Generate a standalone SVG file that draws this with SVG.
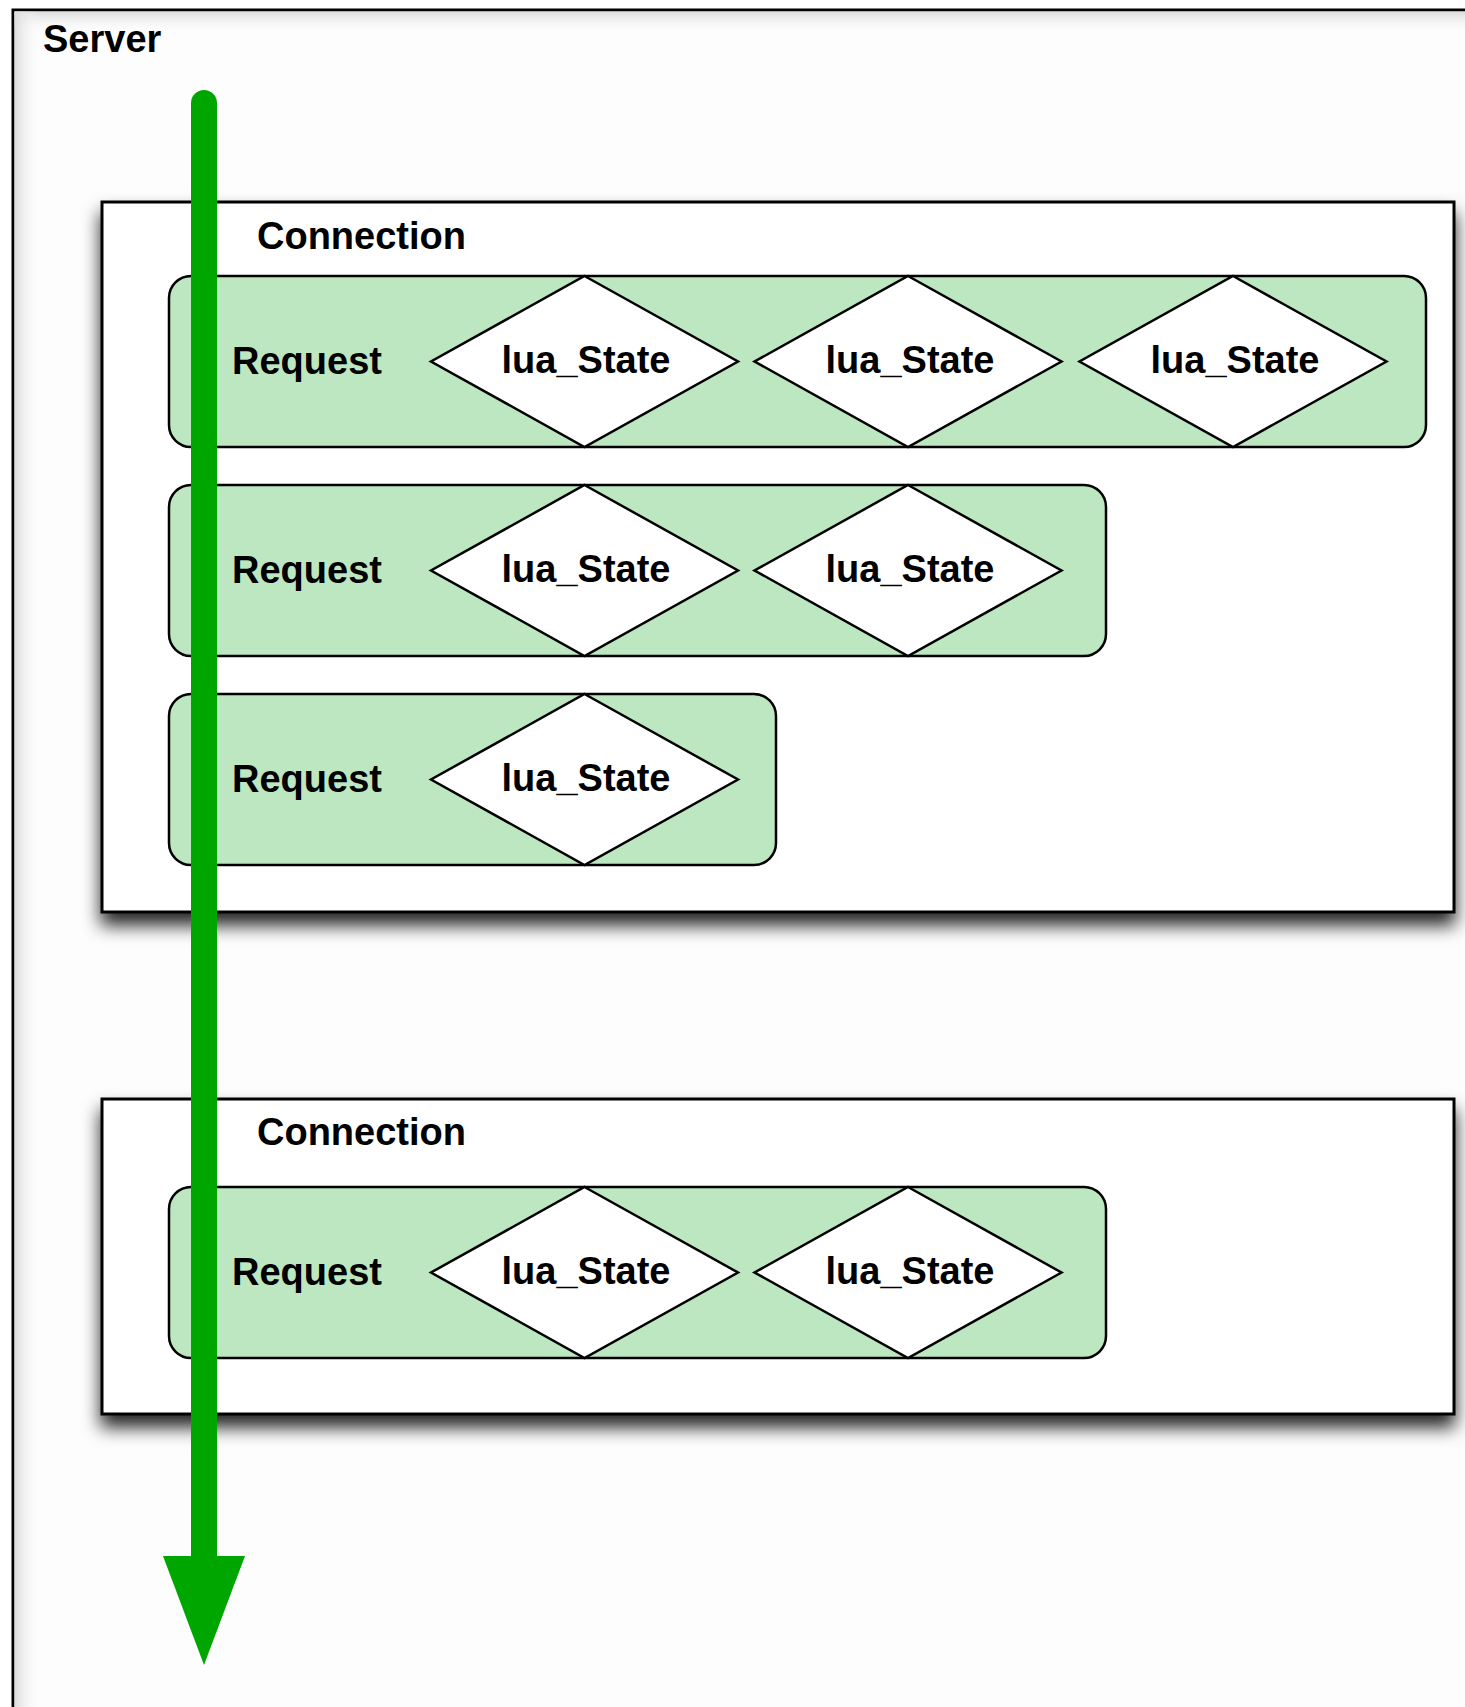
<svg xmlns="http://www.w3.org/2000/svg" width="1465" height="1707" viewBox="0 0 1465 1707">
  <defs>
    <filter id="dropShadow" x="-5%" y="-10%" width="110%" height="130%">
      <feDropShadow dx="0" dy="12" stdDeviation="9" flood-color="#000" flood-opacity="0.85"/>
    </filter>
    <linearGradient id="innerTop" x1="0" y1="0" x2="0" y2="1">
      <stop offset="0" stop-color="#dcdcdc"/>
      <stop offset="1" stop-color="#fdfdfd" stop-opacity="0"/>
    </linearGradient>
    <linearGradient id="innerLeft" x1="0" y1="0" x2="1" y2="0">
      <stop offset="0" stop-color="#dcdcdc"/>
      <stop offset="1" stop-color="#fdfdfd" stop-opacity="0"/>
    </linearGradient>
    <polygon id="diamondShape" points="0,-85.5 153.5,0 0,85.5 -153.5,0"/>
  </defs>
  <style>
    .label { font-family: "Liberation Sans", Arial, Helvetica, sans-serif; font-weight: bold; font-size: 38px; fill: #000; }
    .server { fill: #fdfdfd; stroke: #000; stroke-width: 3; }
    .connection { fill: #fff; stroke: #000; stroke-width: 3; filter: url(#dropShadow); }
    .request { fill: #bde7c0; stroke: #000; stroke-width: 2.5; }
    .diamond { fill: #fff; stroke: #000; stroke-width: 2.5; stroke-linejoin: miter; }
    .flow { stroke: #00a600; stroke-width: 26; stroke-linecap: round; fill: none; }
    .flowHead { fill: #00a600; }
  </style>

  <rect width="1465" height="1707" fill="#fff"/>

  <!-- Server container -->
  <g id="server">
    <rect class="server" x="13" y="10" width="1500" height="1760"/>
    <rect x="14.5" y="11.5" width="1460" height="22" fill="url(#innerTop)"/>
    <rect x="14.5" y="11.5" width="26" height="1700" fill="url(#innerLeft)"/>
    <text class="label" x="43" y="52">Server</text>
  </g>

  <!-- First connection -->
  <g id="connection1">
    <rect class="connection" x="102" y="202" width="1352" height="710"/>
    <text class="label" x="257" y="249">Connection</text>
  </g>

  <g id="request1">
    <rect class="request" x="169" y="276" width="1257" height="171" rx="22" ry="22"/>
    <text class="label" x="232" y="374">Request</text>
  </g>
  <g id="state1a">
    <use href="#diamondShape" class="diamond" x="584.5" y="361.5"/>
    <text class="label" x="586" y="373" text-anchor="middle">lua_State</text>
  </g>
  <g id="state1b">
    <use href="#diamondShape" class="diamond" x="908" y="361.5"/>
    <text class="label" x="910" y="373" text-anchor="middle">lua_State</text>
  </g>
  <g id="state1c">
    <use href="#diamondShape" class="diamond" x="1233" y="361.5"/>
    <text class="label" x="1235" y="373" text-anchor="middle">lua_State</text>
  </g>

  <g id="request2">
    <rect class="request" x="169" y="485" width="937" height="171" rx="22" ry="22"/>
    <text class="label" x="232" y="583">Request</text>
  </g>
  <g id="state2a">
    <use href="#diamondShape" class="diamond" x="584.5" y="570.5"/>
    <text class="label" x="586" y="582" text-anchor="middle">lua_State</text>
  </g>
  <g id="state2b">
    <use href="#diamondShape" class="diamond" x="908" y="570.5"/>
    <text class="label" x="910" y="582" text-anchor="middle">lua_State</text>
  </g>

  <g id="request3">
    <rect class="request" x="169" y="694" width="607" height="171" rx="22" ry="22"/>
    <text class="label" x="232" y="792">Request</text>
  </g>
  <g id="state3a">
    <use href="#diamondShape" class="diamond" x="584.5" y="779.5"/>
    <text class="label" x="586" y="791" text-anchor="middle">lua_State</text>
  </g>

  <!-- Second connection -->
  <g id="connection2">
    <rect class="connection" x="102" y="1099" width="1352" height="315"/>
    <text class="label" x="257" y="1145">Connection</text>
  </g>

  <g id="request4">
    <rect class="request" x="169" y="1187" width="937" height="171" rx="22" ry="22"/>
    <text class="label" x="232" y="1285">Request</text>
  </g>
  <g id="state4a">
    <use href="#diamondShape" class="diamond" x="584.5" y="1272.5"/>
    <text class="label" x="586" y="1284" text-anchor="middle">lua_State</text>
  </g>
  <g id="state4b">
    <use href="#diamondShape" class="diamond" x="908" y="1272.5"/>
    <text class="label" x="910" y="1284" text-anchor="middle">lua_State</text>
  </g>

  <!-- Processing flow arrow -->
  <g id="connectors">
    <line class="flow" x1="204" y1="103" x2="204" y2="1560"/>
    <polygon class="flowHead" points="163,1556 245,1556 204,1665"/>
  </g>
</svg>
